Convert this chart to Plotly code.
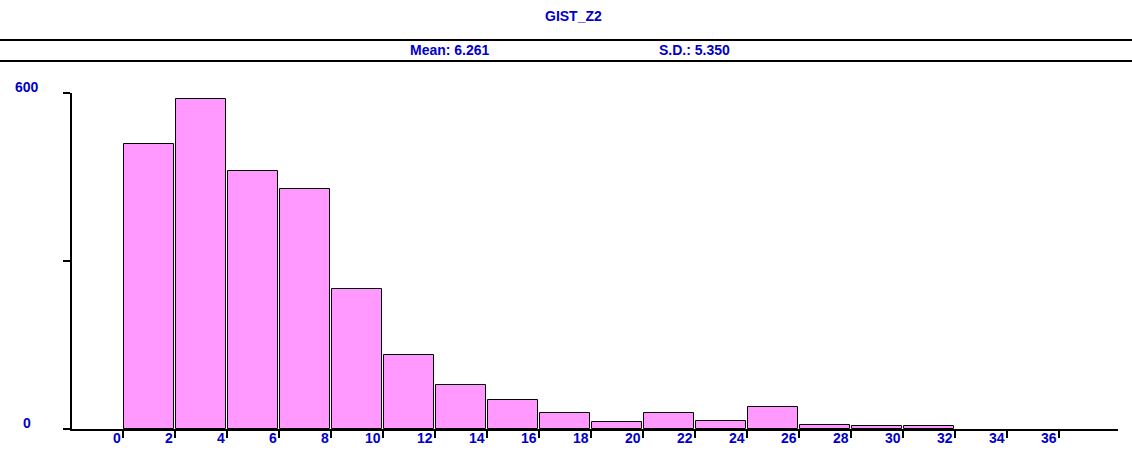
import plotly.graph_objects as go

# ---- data ----
bin_left = [0, 2, 4, 6, 8, 10, 12, 14, 16, 18, 20, 22, 24, 26, 28, 30]
bin_width = 2
counts = [509, 589, 460, 428, 250, 132, 78, 51, 28, 12, 28, 14, 40, 8, 5, 5]
x_tick_vals = list(range(0, 38, 2))
x_tick_labels = [str(v) for v in x_tick_vals]
y_tick_vals = [0, 300, 600]
y_label_vals = [600, 0]
y_label_text = ["600", "0"]
title_text = "GIST_Z2"
mean_text = "Mean: 6.261"
sd_text = "S.D.: 5.350"

# ---- layout geometry (pixels) ----
W, H = 1132, 458
L, R, T, B = 72, 1118, 93, 429
PW, PH = R - L, B - T

def px(xp):
    return (xp - L) / PW

def py(yp):
    return (B - yp) / PH

BLUE = "#0000C8"
FONT = "Liberation Sans, Arial, sans-serif"
FS = 14

centers = [b + bin_width / 2 for b in bin_left]

fig = go.Figure(
    go.Bar(
        x=centers,
        y=counts,
        width=1.92,
        marker=dict(color="#FF99FF", line=dict(color="black", width=1)),
        hoverinfo="skip",
    )
)

annotations = []
for v, t in zip(x_tick_vals, x_tick_labels):
    annotations.append(dict(
        x=v, xref="x", y=py(437.5), yref="paper",
        text="<b>%s</b>" % t, showarrow=False,
        xanchor="right", yanchor="middle", xshift=0,
        font=dict(family=FONT, size=FS, color=BLUE),
    ))
for v, t in zip(y_label_vals, y_label_text):
    annotations.append(dict(
        x=px(27), xref="paper", y=v, yref="y",
        text="<b>%s</b>" % t, showarrow=False,
        xanchor="center", yanchor="middle", yshift=6,
        font=dict(family=FONT, size=FS, color=BLUE),
    ))
for txt, cx, cy in [(title_text, 573.5, 16), (mean_text, 450, 50), (sd_text, 694.5, 50)]:
    annotations.append(dict(
        x=px(cx), xref="paper", y=py(cy), yref="paper",
        text="<b>%s</b>" % txt, showarrow=False,
        xanchor="center", yanchor="middle",
        font=dict(family=FONT, size=FS, color=BLUE),
    ))

shapes = []
for ly in (40, 61):
    shapes.append(dict(
        type="line", xref="paper", yref="paper",
        x0=px(0), x1=px(W), y0=py(ly), y1=py(ly),
        line=dict(color="black", width=2),
    ))

fig.update_layout(
    width=W, height=H,
    margin=dict(l=L, r=W - R, t=T, b=H - B, pad=0),
    paper_bgcolor="white", plot_bgcolor="white",
    showlegend=False,
    bargap=0,
    font=dict(family=FONT, size=FS, color=BLUE),
    xaxis=dict(
        range=[(L - 123.3) / 26.0, (R - 123.3) / 26.0],
        tickvals=x_tick_vals, showticklabels=False,
        ticks="outside", ticklen=7, tickwidth=2, tickcolor="black",
        showline=True, linecolor="black", linewidth=2,
        showgrid=False, zeroline=False, fixedrange=True,
    ),
    yaxis=dict(
        range=[0, 600],
        tickvals=y_tick_vals, showticklabels=False,
        ticks="outside", ticklen=7, tickwidth=2, tickcolor="black",
        showline=True, linecolor="black", linewidth=2,
        showgrid=False, zeroline=False, fixedrange=True,
    ),
    annotations=annotations,
    shapes=shapes,
)

fig.write_html(
    "out.html",
    config={"displayModeBar": False},
    post_script="document.body.style.margin='0';document.body.style.overflow='hidden';",
)
